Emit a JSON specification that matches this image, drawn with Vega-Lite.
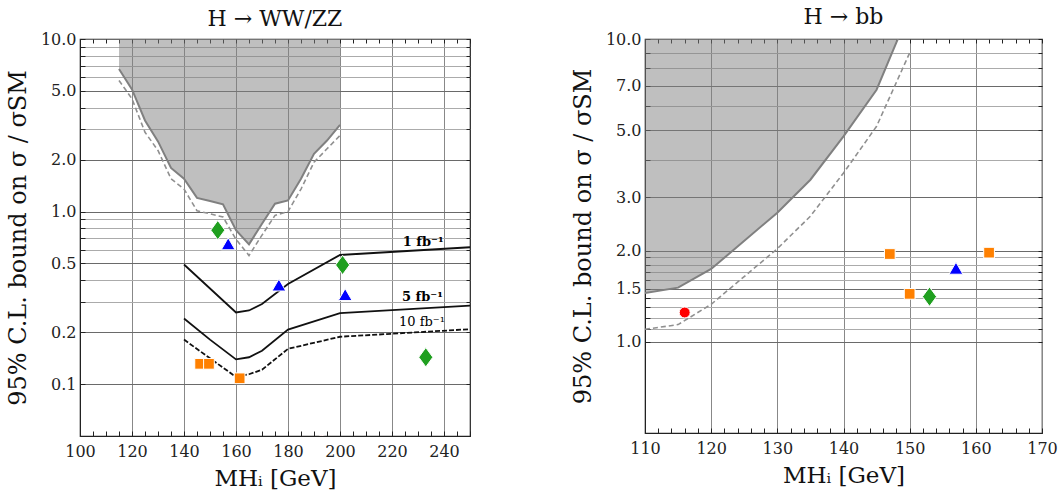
{
  "$schema": "https://vega.github.io/schema/vega-lite/v6.json",
  "background": "white",
  "padding": {"left": 5, "top": 5, "right": 2, "bottom": 2},
  "spacing": 98,
  "datasets": {
    "wwzz": [
      {"mass": 115, "value": 6.7, "curve": "observed"},
      {"mass": 120, "value": 5.1, "curve": "observed"},
      {"mass": 125, "value": 3.37, "curve": "observed"},
      {"mass": 130, "value": 2.55, "curve": "observed"},
      {"mass": 135, "value": 1.79, "curve": "observed"},
      {"mass": 140, "value": 1.55, "curve": "observed"},
      {"mass": 145, "value": 1.2, "curve": "observed"},
      {"mass": 150, "value": 1.15, "curve": "observed"},
      {"mass": 155, "value": 1.1, "curve": "observed"},
      {"mass": 160, "value": 0.78, "curve": "observed"},
      {"mass": 165, "value": 0.645, "curve": "observed"},
      {"mass": 170, "value": 0.85, "curve": "observed"},
      {"mass": 175, "value": 1.11, "curve": "observed"},
      {"mass": 180, "value": 1.16, "curve": "observed"},
      {"mass": 185, "value": 1.55, "curve": "observed"},
      {"mass": 190, "value": 2.16, "curve": "observed"},
      {"mass": 195, "value": 2.58, "curve": "observed"},
      {"mass": 200, "value": 3.18, "curve": "observed"},
      {"mass": 115, "value": 5.75, "curve": "expected"},
      {"mass": 120, "value": 4.5, "curve": "expected"},
      {"mass": 125, "value": 2.88, "curve": "expected"},
      {"mass": 130, "value": 2.26, "curve": "expected"},
      {"mass": 135, "value": 1.55, "curve": "expected"},
      {"mass": 140, "value": 1.35, "curve": "expected"},
      {"mass": 145, "value": 1.01, "curve": "expected"},
      {"mass": 150, "value": 0.97, "curve": "expected"},
      {"mass": 155, "value": 0.93, "curve": "expected"},
      {"mass": 160, "value": 0.69, "curve": "expected"},
      {"mass": 165, "value": 0.556, "curve": "expected"},
      {"mass": 170, "value": 0.73, "curve": "expected"},
      {"mass": 175, "value": 0.95, "curve": "expected"},
      {"mass": 180, "value": 1.0, "curve": "expected"},
      {"mass": 185, "value": 1.35, "curve": "expected"},
      {"mass": 190, "value": 1.93, "curve": "expected"},
      {"mass": 195, "value": 2.31, "curve": "expected"},
      {"mass": 200, "value": 2.76, "curve": "expected"},
      {"mass": 140, "value": 0.493, "curve": "1 fb⁻¹"},
      {"mass": 160, "value": 0.26, "curve": "1 fb⁻¹"},
      {"mass": 165, "value": 0.267, "curve": "1 fb⁻¹"},
      {"mass": 170, "value": 0.291, "curve": "1 fb⁻¹"},
      {"mass": 180, "value": 0.38, "curve": "1 fb⁻¹"},
      {"mass": 200, "value": 0.56, "curve": "1 fb⁻¹"},
      {"mass": 250, "value": 0.621, "curve": "1 fb⁻¹"},
      {"mass": 140, "value": 0.24, "curve": "5 fb⁻¹"},
      {"mass": 150, "value": 0.181, "curve": "5 fb⁻¹"},
      {"mass": 160, "value": 0.139, "curve": "5 fb⁻¹"},
      {"mass": 165, "value": 0.143, "curve": "5 fb⁻¹"},
      {"mass": 170, "value": 0.156, "curve": "5 fb⁻¹"},
      {"mass": 180, "value": 0.207, "curve": "5 fb⁻¹"},
      {"mass": 200, "value": 0.258, "curve": "5 fb⁻¹"},
      {"mass": 250, "value": 0.285, "curve": "5 fb⁻¹"},
      {"mass": 140, "value": 0.181, "curve": "10 fb⁻¹"},
      {"mass": 150, "value": 0.141, "curve": "10 fb⁻¹"},
      {"mass": 160, "value": 0.11, "curve": "10 fb⁻¹"},
      {"mass": 165, "value": 0.114, "curve": "10 fb⁻¹"},
      {"mass": 170, "value": 0.121, "curve": "10 fb⁻¹"},
      {"mass": 180, "value": 0.16, "curve": "10 fb⁻¹"},
      {"mass": 200, "value": 0.188, "curve": "10 fb⁻¹"},
      {"mass": 250, "value": 0.208, "curve": "10 fb⁻¹"}
    ],
    "wwzz_labels": [
      {"mass": 232, "value": 0.67, "label": "1 fb⁻¹", "lumi": "low"},
      {"mass": 231.7, "value": 0.318, "label": "5 fb⁻¹", "lumi": "low"},
      {"mass": 231.5, "value": 0.23, "label": "10 fb⁻¹", "lumi": "high"}
    ],
    "wwzz_points": [
      {"mass": 153, "value": 0.78, "group": "green"},
      {"mass": 157, "value": 0.65, "group": "blue"},
      {"mass": 176.5, "value": 0.375, "group": "blue"},
      {"mass": 201, "value": 0.49, "group": "green"},
      {"mass": 202, "value": 0.33, "group": "blue"},
      {"mass": 233, "value": 0.143, "group": "green"},
      {"mass": 146.2, "value": 0.131, "group": "orange"},
      {"mass": 149.6, "value": 0.131, "group": "orange"},
      {"mass": 161.4, "value": 0.108, "group": "orange"},
      {"mass": 193, "value": 0.0468, "group": "red"}
    ],
    "bb": [
      {"mass": 110, "value": 1.45, "curve": "observed"},
      {"mass": 115, "value": 1.51, "curve": "observed"},
      {"mass": 120, "value": 1.74, "curve": "observed"},
      {"mass": 130, "value": 2.67, "curve": "observed"},
      {"mass": 135, "value": 3.43, "curve": "observed"},
      {"mass": 140, "value": 4.77, "curve": "observed"},
      {"mass": 145, "value": 6.8, "curve": "observed"},
      {"mass": 150, "value": 12.4, "curve": "observed"},
      {"mass": 110, "value": 1.1, "curve": "expected"},
      {"mass": 115, "value": 1.14, "curve": "expected"},
      {"mass": 120, "value": 1.33, "curve": "expected"},
      {"mass": 130, "value": 2.03, "curve": "expected"},
      {"mass": 135, "value": 2.6, "curve": "expected"},
      {"mass": 140, "value": 3.61, "curve": "expected"},
      {"mass": 145, "value": 5.15, "curve": "expected"},
      {"mass": 150, "value": 9.0, "curve": "expected"}
    ],
    "bb_points": [
      {"mass": 116, "value": 1.25, "group": "red"},
      {"mass": 147, "value": 1.95, "group": "orange"},
      {"mass": 150, "value": 1.44, "group": "orange"},
      {"mass": 153, "value": 1.41, "group": "green"},
      {"mass": 157, "value": 1.75, "group": "blue"},
      {"mass": 162, "value": 1.97, "group": "orange"}
    ]
  },
  "hconcat": [
    {
      "width": 390,
      "height": 397,
      "title": {"text": "H → WW/ZZ", "offset": 0},
      "resolve": {"axis": {"x": "independent", "y": "independent"}},
      "layer": [
        {
          "data": {"name": "wwzz"},
          "transform": [{"filter": "datum.curve === 'observed'"}],
          "mark": {"type": "area", "fill": "#808080", "opacity": 0.5, "clip": true},
          "encoding": {
            "x": {"field": "mass", "type": "quantitative", "scale": {"domain": [100, 250], "nice": false, "zero": false},
              "axis": {"orient": "bottom", "title": "MHᵢ  [GeV]", "values": [100,105,110,115,120,125,130,135,140,145,150,155,160,165,170,175,180,185,190,195,200,205,210,215,220,225,230,235,240,245,250],
                "labelExpr": "datum.value % 20 === 0 ? format(datum.value, 'd') : ''", "labelFlush": false, "labelOverlap": false,
                "grid": true, "gridColor": "#888888", "gridOpacity": {"condition": {"test": "datum.value % 20 === 0", "value": 1}, "value": 0},
                "tickSize": -5, "labelPadding": 12, "titlePadding": 8}},
            "y": {"field": "value", "type": "quantitative", "scale": {"type": "log", "domain": [0.05, 10], "nice": false},
              "axis": {"orient": "left", "title": "95% C.L. bound on  σ / σSM", "titleFontSize": 24, "values": [0.1,0.2,0.3,0.4,0.5,0.6,0.7,0.8,0.9,1,2,3,4,5,6,7,8,9,10],
                "format": ".1f", "labelExpr": "indexof([0.1,0.2,0.5,1,2,5,10], datum.value) >= 0 ? datum.label : ''", "labelOverlap": false,
                "grid": true, "gridColor": {"condition": {"test": "indexof([0.1,0.2,0.5,1,2,5,10], datum.value) >= 0", "value": "#6a6a6a"}, "value": "#ababab"},
                "tickSize": -5, "labelPadding": 9, "titlePadding": 10}},
            "y2": {"datum": 10}
          }
        },
        {
          "data": {"name": "wwzz"},
          "transform": [{"filter": "datum.curve === 'observed'"}],
          "mark": {"type": "line", "stroke": "#808080", "strokeWidth": 2, "clip": true},
          "encoding": {
            "x": {"field": "mass", "type": "quantitative", "scale": {"domain": [100, 250], "nice": false, "zero": false},
              "axis": {"orient": "top", "title": null, "labels": false, "grid": false, "domain": false, "tickSize": -4,
                "values": [100,105,110,115,120,125,130,135,140,145,150,155,160,165,170,175,180,185,190,195,200,205,210,215,220,225,230,235,240,245,250]}},
            "y": {"field": "value", "type": "quantitative", "scale": {"type": "log", "domain": [0.05, 10], "nice": false},
              "axis": {"orient": "right", "title": null, "labels": false, "grid": false, "domain": false, "tickSize": -4,
                "values": [0.1,0.2,0.3,0.4,0.5,0.6,0.7,0.8,0.9,1,2,3,4,5,6,7,8,9,10]}}
          }
        },
        {
          "data": {"name": "wwzz"},
          "transform": [{"filter": "datum.curve === 'expected'"}],
          "mark": {"type": "line", "stroke": "#909090", "strokeWidth": 1.6, "strokeDash": [5, 3], "clip": true},
          "encoding": {
            "x": {"field": "mass", "type": "quantitative", "axis": null},
            "y": {"field": "value", "type": "quantitative", "axis": null}
          }
        },
        {
          "data": {"name": "wwzz"},
          "transform": [{"filter": "datum.curve === '1 fb⁻¹' || datum.curve === '5 fb⁻¹'"}],
          "mark": {"type": "line", "stroke": "#111111", "strokeWidth": 1.8, "clip": true},
          "encoding": {
            "x": {"field": "mass", "type": "quantitative", "axis": null},
            "y": {"field": "value", "type": "quantitative", "axis": null},
            "detail": {"field": "curve"}
          }
        },
        {
          "data": {"name": "wwzz"},
          "transform": [{"filter": "datum.curve === '10 fb⁻¹'"}],
          "mark": {"type": "line", "stroke": "#111111", "strokeWidth": 1.8, "strokeDash": [5, 2], "clip": true},
          "encoding": {
            "x": {"field": "mass", "type": "quantitative", "axis": null},
            "y": {"field": "value", "type": "quantitative", "axis": null}
          }
        },
        {
          "data": {"name": "wwzz_labels"},
          "transform": [{"filter": "datum.lumi === 'low'"}],
          "mark": {"type": "text", "font": "DejaVu Serif", "fontSize": 13, "fontWeight": "bold", "color": "#000"},
          "encoding": {
            "x": {"field": "mass", "type": "quantitative", "axis": null},
            "y": {"field": "value", "type": "quantitative", "axis": null},
            "text": {"field": "label"}
          }
        },
        {
          "data": {"name": "wwzz_labels"},
          "transform": [{"filter": "datum.lumi === 'high'"}],
          "mark": {"type": "text", "font": "DejaVu Serif", "fontSize": 13, "fontWeight": "normal", "color": "#000"},
          "encoding": {
            "x": {"field": "mass", "type": "quantitative", "axis": null},
            "y": {"field": "value", "type": "quantitative", "axis": null},
            "text": {"field": "label"}
          }
        },
        {
          "data": {"name": "wwzz_points"},
          "mark": {"type": "point", "filled": true, "opacity": 1, "stroke": "white", "strokeWidth": 1, "clip": true},
          "encoding": {
            "x": {"field": "mass", "type": "quantitative", "axis": null},
            "y": {"field": "value", "type": "quantitative", "axis": null},
            "color": {"field": "group", "type": "nominal", "legend": null,
              "scale": {"domain": ["orange", "blue", "green", "red"], "range": ["#ff8000", "#0000ff", "#1f9f1f", "#ff0000"]}},
            "shape": {"field": "group", "type": "nominal", "legend": null,
              "scale": {"domain": ["orange", "blue", "green", "red"], "range": ["square", "triangle-up", "M0,-1.3L0.95,0L0,1.3L-0.95,0Z", "circle"]}},
            "size": {"field": "group", "type": "nominal", "legend": null,
              "scale": {"type": "ordinal", "domain": ["orange", "blue", "green", "red"], "range": [115, 190, 220, 120]}}
          }
        }
      ]
    },
    {
      "width": 397,
      "height": 394,
      "title": {"text": "H → bb", "offset": 2},
      "resolve": {"axis": {"x": "independent", "y": "independent"}},
      "layer": [
        {
          "data": {"name": "bb"},
          "transform": [{"filter": "datum.curve === 'observed'"}],
          "mark": {"type": "area", "fill": "#808080", "opacity": 0.5, "clip": true},
          "encoding": {
            "x": {"field": "mass", "type": "quantitative", "scale": {"domain": [110, 170], "nice": false, "zero": false},
              "axis": {"orient": "bottom", "title": "MHᵢ  [GeV]", "values": [110,112,114,116,118,120,122,124,126,128,130,132,134,136,138,140,142,144,146,148,150,152,154,156,158,160,162,164,166,168,170],
                "labelExpr": "datum.value % 10 === 0 ? format(datum.value, 'd') : ''", "labelFlush": false, "labelOverlap": false,
                "grid": true, "gridColor": "#888888", "gridOpacity": {"condition": {"test": "datum.value % 10 === 0", "value": 1}, "value": 0},
                "tickSize": -5, "labelPadding": 12, "titlePadding": 8}},
            "y": {"field": "value", "type": "quantitative", "scale": {"type": "log", "domain": [0.5, 10], "nice": false},
              "axis": {"orient": "left", "title": "95% C.L. bound on  σ / σSM", "titleFontSize": 24, "values": [1,1.1,1.2,1.3,1.4,1.5,1.6,1.7,1.8,1.9,2,3,4,5,6,7,8,9,10],
                "format": ".1f", "labelExpr": "indexof([1,1.5,2,3,5,7,10], datum.value) >= 0 ? datum.label : ''", "labelOverlap": false,
                "grid": true, "gridColor": {"condition": {"test": "indexof([1,1.5,2,3,5,7,10], datum.value) >= 0", "value": "#6a6a6a"}, "value": "#ababab"},
                "tickSize": -5, "labelPadding": 9, "titlePadding": 10}},
            "y2": {"datum": 10}
          }
        },
        {
          "data": {"name": "bb"},
          "transform": [{"filter": "datum.curve === 'observed'"}],
          "mark": {"type": "line", "stroke": "#808080", "strokeWidth": 2, "clip": true},
          "encoding": {
            "x": {"field": "mass", "type": "quantitative", "scale": {"domain": [110, 170], "nice": false, "zero": false},
              "axis": {"orient": "top", "title": null, "labels": false, "grid": false, "domain": false, "tickSize": -4,
                "values": [110,112,114,116,118,120,122,124,126,128,130,132,134,136,138,140,142,144,146,148,150,152,154,156,158,160,162,164,166,168,170]}},
            "y": {"field": "value", "type": "quantitative", "scale": {"type": "log", "domain": [0.5, 10], "nice": false},
              "axis": {"orient": "right", "title": null, "labels": false, "grid": false, "domain": false, "tickSize": -4,
                "values": [1,1.1,1.2,1.3,1.4,1.5,1.6,1.7,1.8,1.9,2,3,4,5,6,7,8,9,10]}}
          }
        },
        {
          "data": {"name": "bb"},
          "transform": [{"filter": "datum.curve === 'expected'"}],
          "mark": {"type": "line", "stroke": "#909090", "strokeWidth": 1.6, "strokeDash": [5, 3], "clip": true},
          "encoding": {
            "x": {"field": "mass", "type": "quantitative", "axis": null},
            "y": {"field": "value", "type": "quantitative", "axis": null}
          }
        },
        {
          "data": {"name": "bb_points"},
          "mark": {"type": "point", "filled": true, "opacity": 1, "stroke": "white", "strokeWidth": 1, "clip": true},
          "encoding": {
            "x": {"field": "mass", "type": "quantitative", "axis": null},
            "y": {"field": "value", "type": "quantitative", "axis": null},
            "color": {"field": "group", "type": "nominal", "legend": null,
              "scale": {"domain": ["orange", "blue", "green", "red"], "range": ["#ff8000", "#0000ff", "#1f9f1f", "#ff0000"]}},
            "shape": {"field": "group", "type": "nominal", "legend": null,
              "scale": {"domain": ["orange", "blue", "green", "red"], "range": ["square", "triangle-up", "M0,-1.3L0.95,0L0,1.3L-0.95,0Z", "circle"]}},
            "size": {"field": "group", "type": "nominal", "legend": null,
              "scale": {"type": "ordinal", "domain": ["orange", "blue", "green", "red"], "range": [115, 190, 220, 120]}}
          }
        }
      ]
    }
  ],
  "config": {
    "font": "DejaVu Serif",
    "view": {"stroke": "#222222", "strokeWidth": 1.2},
    "title": {"font": "DejaVu Serif", "fontSize": 22, "fontWeight": "normal", "color": "#111"},
    "axis": {
      "labelFont": "DejaVu Serif", "labelFontSize": 16, "labelColor": "#222",
      "titleFont": "DejaVu Serif", "titleFontSize": 23, "titleFontWeight": "normal", "titleColor": "#111",
      "tickColor": "#222", "domainColor": "#222", "gridWidth": 1
    }
  }
}
